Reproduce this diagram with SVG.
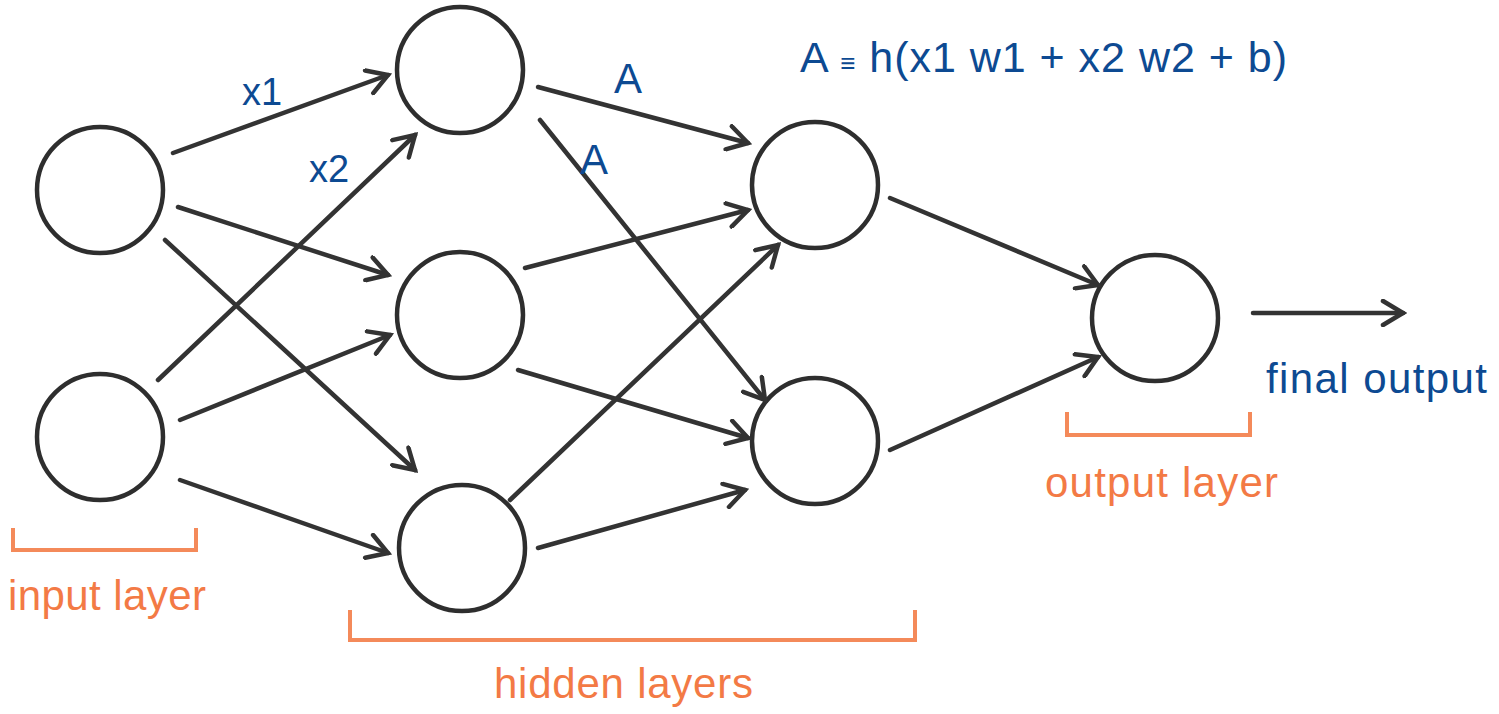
<svg xmlns="http://www.w3.org/2000/svg" width="1499" height="714" viewBox="0 0 1499 714">
  <style>
    .node { fill: none; stroke: #2e2e2e; stroke-width: 4.5; }
    .edge { fill: none; stroke: #333; stroke-width: 4.5; stroke-linecap: round; marker-end: url(#chev); }
    .lbl { font-family: "Liberation Sans", Arial, sans-serif; fill: #0d4a92; }
    .layer { font-family: "Liberation Sans", Arial, sans-serif; fill: #f37a45; font-size: 42px; }
    .brk { fill: none; stroke: #f48a5a; stroke-width: 4; }
  </style>
  <defs>
    <marker id="chev" markerUnits="userSpaceOnUse" viewBox="-24 -14 28 28" refX="0" refY="0" markerWidth="28" markerHeight="28" orient="auto">
      <path d="M-20,-12 L0,0 L-20,12" fill="none" stroke="#333" stroke-width="4.5" stroke-linecap="round" stroke-linejoin="miter"/>
    </marker>
  </defs>

  <!-- input layer -->
  <g id="in1"><circle class="node" cx="100" cy="190" r="63"/></g>
  <g id="in2"><circle class="node" cx="100" cy="437" r="63"/></g>

  <!-- first hidden layer -->
  <g id="h1a"><circle class="node" cx="460" cy="70" r="63"/></g>
  <g id="h1b"><circle class="node" cx="460" cy="315" r="63"/></g>
  <g id="h1c"><circle class="node" cx="462" cy="548" r="63"/></g>

  <!-- second hidden layer -->
  <g id="h2a"><circle class="node" cx="815" cy="185" r="63"/></g>
  <g id="h2b"><circle class="node" cx="815" cy="441" r="63"/></g>

  <!-- output layer -->
  <g id="out"><circle class="node" cx="1155" cy="318" r="63"/></g>

  <g id="edges">
    <line class="edge" x1="173" y1="153" x2="388" y2="75"/>
    <line class="edge" x1="178" y1="207" x2="388" y2="275"/>
    <line class="edge" x1="165" y1="240" x2="415" y2="470"/>
    <line class="edge" x1="158" y1="380" x2="415" y2="135"/>
    <line class="edge" x1="180" y1="420" x2="390" y2="335"/>
    <line class="edge" x1="180" y1="480" x2="388" y2="553"/>

    <line class="edge" x1="538" y1="87" x2="748" y2="143"/>
    <line class="edge" x1="540" y1="120" x2="765" y2="400"/>
    <line class="edge" x1="525" y1="268" x2="748" y2="210"/>
    <line class="edge" x1="518" y1="370" x2="748" y2="438"/>
    <line class="edge" x1="510" y1="500" x2="778" y2="245"/>
    <line class="edge" x1="538" y1="548" x2="745" y2="490"/>

    <line class="edge" x1="890" y1="198" x2="1098" y2="285"/>
    <line class="edge" x1="890" y1="450" x2="1098" y2="357"/>

    <line class="edge" x1="1253" y1="313" x2="1403" y2="313"/>
  </g>

  <!-- weight / activation labels -->
  <g id="labels">
    <text class="lbl" x="242" y="105" font-size="38">x1</text>
    <text class="lbl" x="309" y="182" font-size="38">x2</text>
    <text class="lbl" x="614" y="93" font-size="42">A</text>
    <text class="lbl" x="580" y="174" font-size="42">A</text>
    <text class="lbl" x="800" y="72" font-size="43" textLength="487" lengthAdjust="spacing">A <tspan font-size="26">≡</tspan> h(x1  w1 + x2 w2 + b)</text>
    <text class="lbl" x="1266" y="393" font-size="42" textLength="221">final output</text>
  </g>

  <!-- layer brackets -->
  <g id="brackets">
    <path class="brk" d="M13,528 V550 H196 V528"/>
    <text class="layer" x="8" y="610" textLength="198">input layer</text>
    <path class="brk" d="M350,610 V640 H915 V610"/>
    <text class="layer" x="494" y="698" textLength="259">hidden layers</text>
    <path class="brk" d="M1067,412 V435 H1250 V412"/>
    <text class="layer" x="1045" y="497" textLength="233">output layer</text>
  </g>
</svg>
